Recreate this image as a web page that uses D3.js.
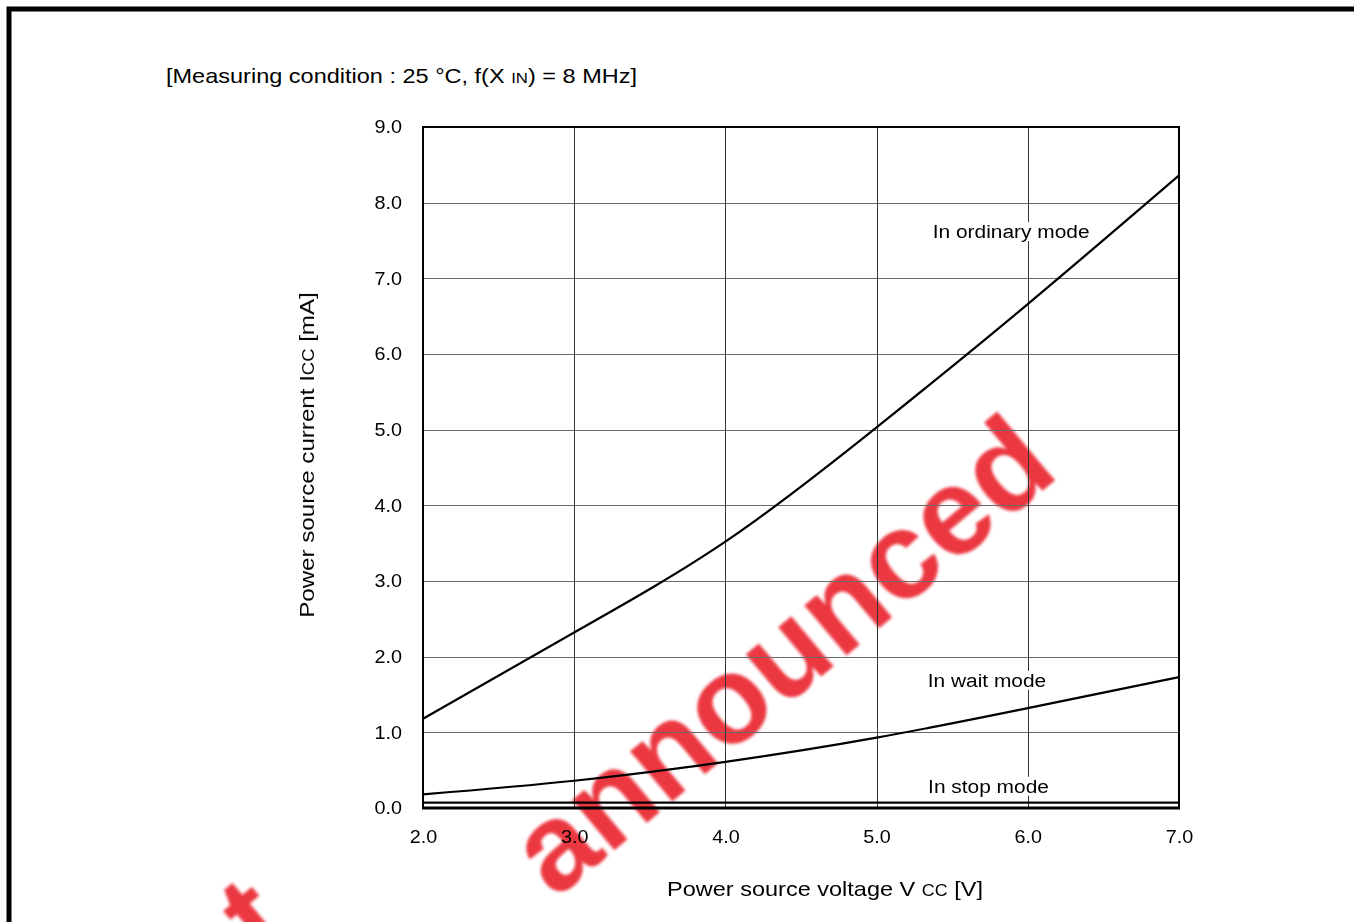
<!DOCTYPE html>
<html>
<head>
<meta charset="utf-8">
<script src="https://cdn.jsdelivr.net/npm/d3@7"></script>
<style>
  html, body { margin: 0; padding: 0; background: #fff; overflow: hidden; }
  svg { display: block; font-family: "Liberation Sans", Arial, sans-serif; }
</style>
</head>
<body>
<div id="chart"></div>
<script>
// Icc vs Vcc at 25 °C, f(XIN) = 8 MHz
const voltages = [2.0, 3.0, 4.0, 5.0, 6.0, 7.0];
const ordinaryMode = [1.18, 2.32, 3.52, 5.03, 6.66, 8.36];
const waitMode = [0.18, 0.36, 0.61, 0.93, 1.32, 1.73];
const stopMode = [0.07, 0.07, 0.07, 0.07, 0.07, 0.07];
const xTicks = [2.0, 3.0, 4.0, 5.0, 6.0, 7.0];
const yTicks = [0, 1, 2, 3, 4, 5, 6, 7, 8, 9];
const seriesLabels = ['In ordinary mode', 'In wait mode', 'In stop mode'];

const W = 1354, H = 922;
const PLOT = { left: 423, right: 1179, top: 127, bottom: 808 };
const FONT = '"Liberation Sans", Arial, sans-serif';

const svg = d3.select('#chart').append('svg')
  .attr('width', W).attr('height', H);

// outer frame (runs off the right/bottom of the page)
svg.append('rect')
  .attr('x', 9).attr('y', 9).attr('width', 1400).attr('height', 1000)
  .attr('fill', 'none').attr('stroke', '#000').attr('stroke-width', 5);

// watermark, drawn under the plot
const defs = svg.append('defs');
defs.append('filter').attr('id', 'soft')
  .append('feGaussianBlur').attr('stdDeviation', 1.8);
const wm = svg.append('g').attr('filter', 'url(#soft)')
  .style('font-size', '124px').style('font-weight', 'bold')
  .style('fill', '#e81c26').style('opacity', 0.88);
wm.append('text')
  .attr('transform', 'translate(555,900) rotate(-40)')
  .text('announced');
wm.append('text')
  .attr('transform', 'translate(296,936) rotate(-40)')
  .attr('text-anchor', 'end')
  .text('yet');

const x = d3.scaleLinear().domain([2, 7]).range([PLOT.left, PLOT.right]);
const y = d3.scaleLinear().domain([0, 9]).range([PLOT.bottom, PLOT.top]);

const g = svg.append('g');

// grid
g.selectAll('line.hgrid').data(yTicks.slice(1, -1)).join('line')
  .attr('class', 'hgrid')
  .attr('x1', PLOT.left).attr('x2', PLOT.right)
  .attr('y1', d => Math.round(y(d)) + 0.5).attr('y2', d => Math.round(y(d)) + 0.5)
  .attr('stroke', '#6a6a6a').attr('stroke-width', 1);
g.selectAll('line.vgrid').data(xTicks.slice(1, -1)).join('line')
  .attr('class', 'vgrid')
  .attr('x1', d => Math.round(x(d)) + 0.5).attr('x2', d => Math.round(x(d)) + 0.5)
  .attr('y1', PLOT.top).attr('y2', PLOT.bottom)
  .attr('stroke', '#333').attr('stroke-width', 1);

// series
const line = d3.line()
  .x((d, i) => x(voltages[i]))
  .y(d => y(d))
  .curve(d3.curveNatural);

[ordinaryMode, waitMode, stopMode].forEach(s => {
  g.append('path').attr('d', line(s))
    .attr('fill', 'none').attr('stroke', '#000').attr('stroke-width', 2.2);
});

// series labels with white backing (they break the 6.0 gridline)
const labelPos = [[5.89, 7.53], [5.73, 1.6], [5.74, 0.2]];
seriesLabels.forEach((txt, i) => {
  const lg = g.append('g')
    .attr('transform', `translate(${x(labelPos[i][0])},${y(labelPos[i][1])}) scale(1.1,1)`);
  const t = lg.append('text')
    .attr('text-anchor', 'middle')
    .style('font-size', '19px').style('fill', '#000')
    .text(txt);
  const bb = t.node().getBBox();
  lg.insert('rect', () => t.node())
    .attr('x', bb.x - 1).attr('y', bb.y + 1)
    .attr('width', bb.width + 2).attr('height', bb.height - 2)
    .attr('fill', '#fff');
});

// plot frame
g.append('rect')
  .attr('x', PLOT.left).attr('y', PLOT.top)
  .attr('width', PLOT.right - PLOT.left).attr('height', PLOT.bottom - PLOT.top)
  .attr('fill', 'none').attr('stroke', '#000').attr('stroke-width', 2);
g.append('line')
  .attr('x1', PLOT.left - 1).attr('x2', PLOT.right + 1)
  .attr('y1', PLOT.bottom).attr('y2', PLOT.bottom)
  .attr('stroke', '#000').attr('stroke-width', 3);

// tick labels
const xAxis = d3.axisBottom(x).tickValues(xTicks).tickSize(0).tickPadding(0)
  .tickFormat(d3.format('.1f'));
const xg = svg.append('g').attr('transform', `translate(0,${PLOT.bottom + 22})`).call(xAxis);
xg.select('.domain').remove();
xg.selectAll('text').style('font-size', '18px').style('font-family', FONT)
  .attr('fill', '#000').attr('transform', 'scale(1.1,1)');

const yAxis = d3.axisLeft(y).tickValues(yTicks).tickSize(0).tickPadding(0)
  .tickFormat(d3.format('.1f'));
const yg = svg.append('g').attr('transform', `translate(${PLOT.left - 21},0)`).call(yAxis);
yg.select('.domain').remove();
yg.selectAll('text').style('font-size', '18px').style('font-family', FONT)
  .attr('fill', '#000').attr('transform', 'scale(1.1,1)');

// title
const title = svg.append('text')
  .attr('transform', 'translate(166,83) scale(1.12,1)')
  .style('font-size', '21px');
title.append('tspan').text('[Measuring condition : 25 \u00B0C, f(X ');
title.append('tspan').style('font-size', '15px').text('IN');
title.append('tspan').text(') = 8 MHz]');

// x axis title
const xt = svg.append('text')
  .attr('transform', 'translate(825,896) scale(1.12,1)')
  .attr('text-anchor', 'middle').style('font-size', '21px');
xt.append('tspan').text('Power source voltage V ');
xt.append('tspan').style('font-size', '16px').text('CC');
xt.append('tspan').text(' [V]');

// y axis title
const yt = svg.append('text')
  .attr('transform', 'translate(314,455) rotate(-90) scale(1.15,1)')
  .attr('text-anchor', 'middle').style('font-size', '21px');
yt.append('tspan').text('Power source current  I');
yt.append('tspan').style('font-size', '16px').text('CC');
yt.append('tspan').text(' [mA]');
</script>
</body>
</html>
